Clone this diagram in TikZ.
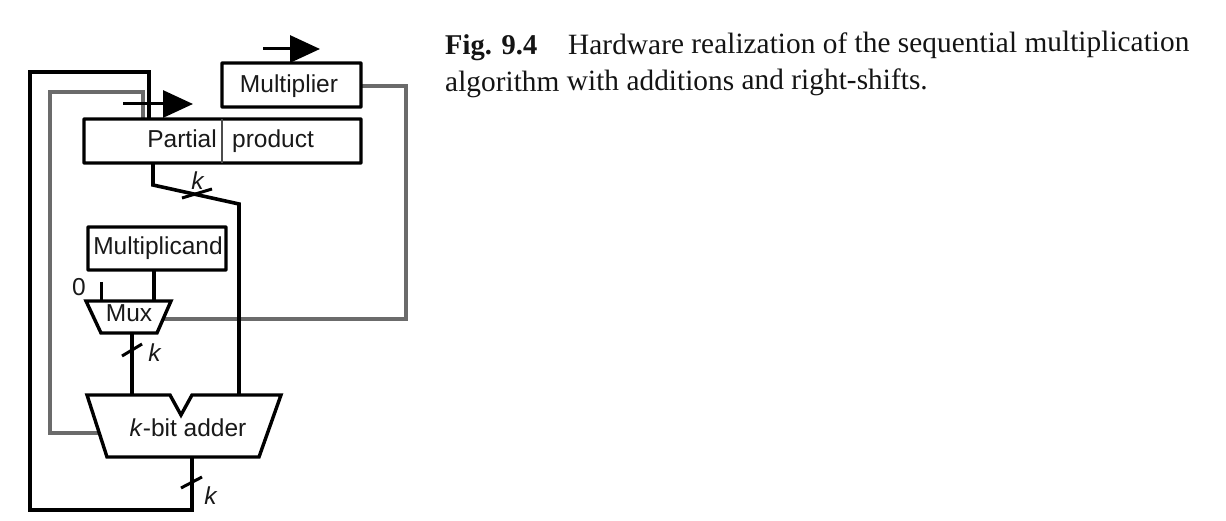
\documentclass[tikz,border=0pt]{standalone}
\usepackage{fontspec}
\setmainfont{Liberation Serif}
\newfontfamily\hv{Liberation Sans}
\usetikzlibrary{arrows.meta}
\tikzset{
  x=1pt,y=-1pt,
  reg/.style={draw=black,line width=3.4pt,rounded corners=0.5pt,inner sep=0pt,outer sep=0pt,anchor=north west},
  lbl/.style={font=\hv\fontsize{24.5}{28}\selectfont,inner sep=0pt,anchor=base,text=black!90},
  wire/.style={draw=black,line width=3.6pt,line join=miter},
  ctrl/.style={draw=black!58,line width=3.05pt,line join=miter},
  unit/.style={draw=black,line width=3.4pt,line join=miter,fill=white},
  slashmark/.style={draw=black,line width=3pt},
  shiftarrow/.style={draw=black,line width=3pt,-{Triangle[length=30pt,width=27pt]},shorten >=0pt},
  captext/.style={font=\fontsize{29.4}{36}\selectfont,inner sep=0pt,anchor=base west,text=black!92,rotate=0.3},
}
\begin{document}
\begin{tikzpicture}
\useasboundingbox (0,0) rectangle (1226,521);
% coordinates
\coordinate (ppTopA) at (149,119);
\coordinate (ppTopB) at (143,119);
\coordinate (ppBot) at (153,163);
\coordinate (bendA) at (153,185);
\coordinate (bendB) at (239,204);
\coordinate (addA) at (239,395);
\coordinate (addB) at (132,395);
\coordinate (muxOut) at (132,333);
\coordinate (muxInA) at (101,301);
\coordinate (muxInB) at (154,301);
\coordinate (zeroIn) at (101,282);
\coordinate (mcandOut) at (154,270);
\coordinate (muxSel) at (163,319);
\coordinate (mulOut) at (361,86);
\coordinate (addSum) at (192,457);
\coordinate (addCout) at (98,433);
\coordinate (loopA1) at (30,72);
\coordinate (loopA2) at (30,510);
\coordinate (loopA3) at (192,510);
\coordinate (loopB1) at (50,92);
\coordinate (loopB2) at (50,433);
\coordinate (rt1) at (406,86);
\coordinate (rt2) at (406,319);
% control lines
\draw[ctrl] (mulOut) -- (rt1) -- (rt2) -- (muxSel);
\draw[ctrl] (ppTopB) |- (loopB1) -- (loopB2) -- (addCout);
% shift arrows
\coordinate (sa1) at (263,49); \coordinate (sa2) at (320,49);
\coordinate (sb1) at (123,104); \coordinate (sb2) at (193,104);
\draw[shiftarrow] (sa1) -- (sa2);
\draw[wire] (ppTopA) |- (loopA1) -- (loopA2) -- (loopA3) -- (addSum);
\draw[shiftarrow] (sb1) -- (sb2);
% registers
\node[reg,minimum width=139pt,minimum height=44pt] (mult) at (222,63) {};
\node[reg,minimum width=277pt,minimum height=44pt] (pp) at (84,119) {};
\node[reg,minimum width=138pt,minimum height=43pt] (mcand) at (88,227) {};
\coordinate (divT) at (222,119); \coordinate (divB) at (222,163);
\draw[ctrl,line width=2.4pt,draw=black!70] (divT) -- (divB);
% wires
\draw[wire] (ppBot) -- (bendA) -- (bendB) -- (addA);
\draw[wire] (mcandOut) -- (muxInB);
\draw[wire,line width=3pt] (zeroIn) -- (muxInA);
\draw[wire] (muxOut) -- (addB);
% mux and adder
\draw[unit] (86,301) -- (171,301) -- (157,333) -- (101,333) -- cycle;
\draw[unit] (87,395) -- (170,395) -- (181,415) -- (192,395) -- (281,395) -- (259,457) -- (107,457) -- cycle;
% bus slashes
\coordinate (s1a) at (182,198); \coordinate (s1b) at (212,189);
\coordinate (s2a) at (122,356); \coordinate (s2b) at (142,344);
\coordinate (s3a) at (181,488); \coordinate (s3b) at (202,477);
\draw[slashmark] (s1a) -- (s1b);
\draw[slashmark] (s2a) -- (s2b);
\draw[slashmark] (s3a) -- (s3b);
% labels
\node[lbl] (tMult) at (289,93) {Multiplier};
\node[lbl,anchor=base east] (tPartial) at (217,148) {Partial};
\node[lbl,anchor=base west] (tProduct) at (232,148) {product};
\node[lbl] (tMcand) at (158,255) {Multiplicand};
\node[lbl] (tMux) at (129,321) {Mux};
\node[lbl] (tZero) at (79,296) {0};
\node[lbl] (tAdder) at (188,436) {\textit{k}-bit adder};
\node[lbl] (k1) at (198,190) {\textit{k}};
\node[lbl] (k2) at (155,361) {\textit{k}};
\node[lbl] (k3) at (211,504) {\textit{k}};
% caption
\node[captext] (capA) at (445,55) {\fontsize{28.6}{36}\selectfont\textbf{Fig. 9.4}};
\node[captext] (capB) at (568,54.5) {Hardware realization of the sequential multiplication};
\node[captext] (capC) at (445,91.5) {algorithm with additions and right-shifts.};
\end{tikzpicture}
\end{document}
